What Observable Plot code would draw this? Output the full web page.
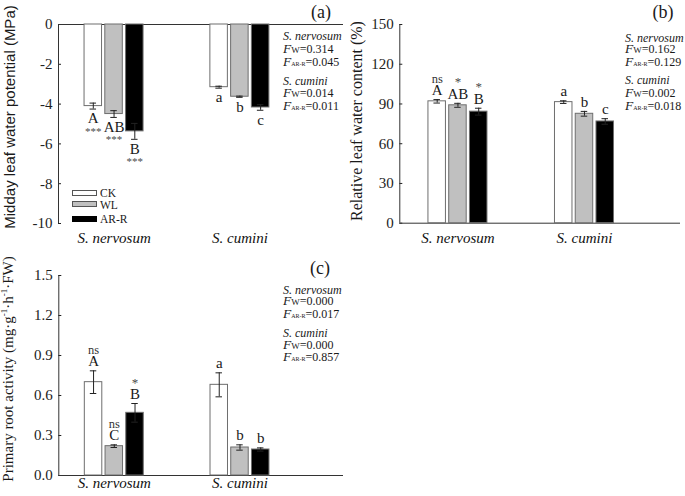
<!DOCTYPE html>
<html><head><meta charset="utf-8">
<script src="https://cdn.jsdelivr.net/npm/d3@7"></script>
<script src="https://cdn.jsdelivr.net/npm/@observablehq/plot@0.6"></script>
<style>
body{margin:0;background:#fff;}
#chart{position:relative;width:685px;height:496px;overflow:hidden;font-family:"Liberation Serif",serif;color:#1a1a1a;}
#chart svg{position:absolute;}
.ann{position:absolute;white-space:nowrap;font-size:12px;line-height:10px;transform:translateY(-50%);}
.ann i.F{font-size:13.5px;}
.ann .sw{font-size:9px;}
.ann .sr{font-size:6px;}
.ytitle{position:absolute;white-space:nowrap;transform:translate(-50%,-50%) rotate(-90deg);}
.tag{position:absolute;font-size:18px;line-height:18px;transform:translate(-50%,-50%);}
.legbox{position:absolute;width:25px;height:6px;box-sizing:border-box;border:1px solid #555;}
.legtxt{position:absolute;font-size:11.5px;line-height:11px;transform:translateY(-50%);}
</style></head>
<body><div id="chart"></div>
<script>
// ---------- data ----------
const species = ["S. nervosum", "S. cumini"];
const treatments = ["CK", "WL", "AR-R"];
const barFills = ["#ffffff", "#c0c0c0", "#000000"];

// (a) Midday leaf water potential (MPa)
const mlwpNervosum = [-4.1, -4.5, -5.37];
const mlwpNervosumSE = [0.15, 0.17, 0.4];
const mlwpCumini = [-3.15, -3.63, -4.17];
const mlwpCuminiSE = [0.05, 0.03, 0.14];
const mlwpLettersN = ["A", "AB", "B"];
const mlwpLettersC = ["a", "b", "c"];
const mlwpSigN = ["***", "***", "***"];
const mlwpSigC = ["", "", ""];
const mlwpTicks = [0, -2, -4, -6, -8, -10];
const mlwpStats = ["0.314", "0.045", "0.014", "0.011"];

// (b) Relative leaf water content (%)
const rwcNervosum = [92.0, 89.0, 84.2];
const rwcNervosumSE = [1.3, 1.5, 2.6];
const rwcCumini = [91.4, 82.6, 76.8];
const rwcCuminiSE = [1.0, 1.8, 2.1];
const rwcLettersN = ["A", "AB", "B"];
const rwcLettersC = ["a", "b", "c"];
const rwcSigN = ["ns", "*", "*"];
const rwcSigC = ["", "", ""];
const rwcTicks = [0, 30, 60, 90, 120, 150];
const rwcStats = ["0.162", "0.129", "0.002", "0.018"];

// (c) Primary root activity (mg·g-1·h-1·FW)
const praNervosum = [0.70, 0.22, 0.47];
const praNervosumSE = [0.085, 0.01, 0.07];
const praCumini = [0.68, 0.21, 0.195];
const praCuminiSE = [0.09, 0.02, 0.012];
const praLettersN = ["A", "C", "B"];
const praLettersC = ["a", "b", "b"];
const praSigN = ["ns", "ns", "*"];
const praSigC = ["", "", ""];
const praTicks = [0, 0.3, 0.6, 0.9, 1.2, 1.5];
const praStats = ["0.000", "0.017", "0.000", "0.857"];

// ---------- helpers ----------
function buildRows(vN, sN, vC, sC, lN, lC, gN, gC) {
  const rows = [];
  treatments.forEach((t, i) => rows.push({species: species[0], treatment: t, value: vN[i], se: sN[i], letter: lN[i], sig: gN[i]}));
  treatments.forEach((t, i) => rows.push({species: species[1], treatment: t, value: vC[i], se: sC[i], letter: lC[i], sig: gC[i]}));
  return rows;
}

const chart = document.getElementById("chart");

function panel(o) {
  const common = {
    width: o.width, height: o.height,
    marginTop: o.mt, marginRight: o.mr, marginBottom: o.mb, marginLeft: o.ml,
    style: {background: "transparent", fontFamily: "'Liberation Serif', serif", overflow: "visible"}
  };
  const base = Plot.plot({
    ...common,
    x: {domain: [0, 1], axis: null},
    y: {domain: o.yDomain},
    marks: [
      Plot.axisY(o.yTicks, {tickSize: -3, tickPadding: 9, fontSize: 15, tickFormat: o.tickFormat, label: null, color: "#222"}),
      Plot.ruleX([0], {stroke: "#333"}),
      Plot.ruleY([0], {stroke: "#333"})
    ]
  });
  const end = d => o.below ? d.value - d.se : d.value + d.se;
  const sgn = o.below ? 1 : -1;
  const bars = Plot.plot({
    ...common,
    fx: {domain: species, paddingInner: o.pi, paddingOuter: o.po, align: o.align, round: false, label: null},
    x: {domain: treatments, paddingInner: 0.157, paddingOuter: 0, round: false, axis: null},
    y: {domain: o.yDomain, axis: null},
    color: {domain: treatments, range: barFills},
    marks: [
      Plot.barY(o.rows, {fx: "species", x: "treatment", y1: 0, y2: "value", fill: "treatment", stroke: "#6e6e6e", strokeWidth: 1}),
      Plot.ruleX(o.rows, {fx: "species", x: "treatment", y1: d => d.value - d.se, y2: d => d.value + d.se, stroke: "#222"}),
      Plot.tickY(o.rows, {fx: "species", x: "treatment", y: d => d.value - d.se, insetLeft: 5.5, insetRight: 5.5, stroke: "#222"}),
      Plot.tickY(o.rows, {fx: "species", x: "treatment", y: d => d.value + d.se, insetLeft: 5.5, insetRight: 5.5, stroke: "#222"}),
      Plot.text(o.rows, {fx: "species", x: "treatment", y: end, text: "letter", dy: sgn * 9.5, fontSize: 15, lineAnchor: "middle", fill: "#1a1a1a"}),
      Plot.text(o.rows.filter(d => d.sig === "ns"), {fx: "species", x: "treatment", y: end, text: "sig", dy: sgn * 21, fontSize: 12.5, lineAnchor: "middle", fill: "#333"}),
      Plot.text(o.rows.filter(d => d.sig && d.sig !== "ns"), {fx: "species", x: "treatment", y: end, text: "sig", dy: sgn * (o.below ? 22 : 21), fontSize: o.below ? 11 : 13, lineAnchor: "middle", fill: "#4a4a4a"}),
      Plot.axisFx({anchor: "bottom", tickSize: 0, tickPadding: o.labelPad, fontSize: 15, fontStyle: "italic", label: null, color: "#111"})
    ]
  });
  for (const svg of [base, bars]) {
    svg.style.left = o.left + "px";
    svg.style.top = o.top + "px";
    chart.appendChild(svg);
  }
}

const fmtPlain = d => String(d);
panel({left: 0, top: 0, width: 345, height: 250, mt: 24, mr: 2, mb: 27, ml: 58,
  yDomain: [-10, 0], yTicks: mlwpTicks, tickFormat: fmtPlain, below: true, labelPad: 9,
  pi: 0.531, po: 0.398, align: 0.26,
  rows: buildRows(mlwpNervosum, mlwpNervosumSE, mlwpCumini, mlwpCuminiSE, mlwpLettersN, mlwpLettersC, mlwpSigN, mlwpSigC)});
panel({left: 340, top: 0, width: 345, height: 250, mt: 24, mr: 5, mb: 27.3, ml: 59.3,
  yDomain: [0, 150], yTicks: rwcTicks, tickFormat: fmtPlain, below: false, labelPad: 9,
  pi: 0.5336, po: 0.376, align: 0.301,
  rows: buildRows(rwcNervosum, rwcNervosumSE, rwcCumini, rwcCuminiSE, rwcLettersN, rwcLettersC, rwcSigN, rwcSigC)});
panel({left: 0, top: 245, width: 345, height: 251, mt: 30, mr: 2, mb: 21, ml: 58.3,
  yDomain: [0, 1.5], yTicks: praTicks, tickFormat: d3.format(".1f"), below: false, labelPad: 1.5,
  pi: 0.531, po: 0.398, align: 0.26,
  rows: buildRows(praNervosum, praNervosumSE, praCumini, praCuminiSE, praLettersN, praLettersC, praSigN, praSigC)});

// ---------- overlays: titles, tags, stats, legend ----------
function addHTML(cls, html, styles) {
  const el = document.createElement("div");
  el.className = cls;
  el.innerHTML = html;
  Object.assign(el.style, styles);
  chart.appendChild(el);
  return el;
}
addHTML("ytitle", "Midday leaf water potential (MPa)", {left: "9px", top: "117px", fontFamily: "'Liberation Sans', Arial, sans-serif", fontSize: "15px"});
addHTML("ytitle", "Relative leaf water content (%)", {left: "356.5px", top: "121px", fontSize: "16px"});
addHTML("ytitle", "Primary root activity (mg&middot;g<sup style='font-size:9px'>-1</sup>&middot;h<sup style='font-size:9px'>-1</sup>&middot;FW)", {left: "8px", top: "369px", fontSize: "15px"});

addHTML("tag", "(a)", {left: "321px", top: "12px"});
addHTML("tag", "(b)", {left: "663px", top: "12px"});
addHTML("tag", "(c)", {left: "320px", top: "268px"});

function stats(left, centers, vals) {
  const lines = [
    `<i>${species[0]}</i>`,
    `<i class="F">F</i><span class="sw">W</span>=${vals[0]}`,
    `<i class="F">F</i><span class="sr">AR-R</span>=${vals[1]}`,
    `<i>${species[1]}</i>`,
    `<i class="F">F</i><span class="sw">W</span>=${vals[2]}`,
    `<i class="F">F</i><span class="sr">AR-R</span>=${vals[3]}`
  ];
  lines.forEach((h, i) => addHTML("ann", h, {left: left + "px", top: centers[i] + "px"}));
}
stats(283, [36, 48.5, 62.5, 80.5, 93, 107.3], mlwpStats);
stats(625, [37.5, 48.5, 63.3, 80, 92.7, 107.3], rwcStats);
stats(283, [290.3, 301, 315, 333.3, 344.5, 357.5], praStats);

const legTops = [189.5, 201.4, 215.6];
treatments.forEach((t, i) => {
  addHTML("legbox", "", {left: "72px", top: legTops[i] + "px", background: barFills[i], borderColor: i === 2 ? "#000" : "#555"});
  addHTML("legtxt", t, {left: "100px", top: (legTops[i] + 3.2) + "px"});
});
</script>
</body></html>
